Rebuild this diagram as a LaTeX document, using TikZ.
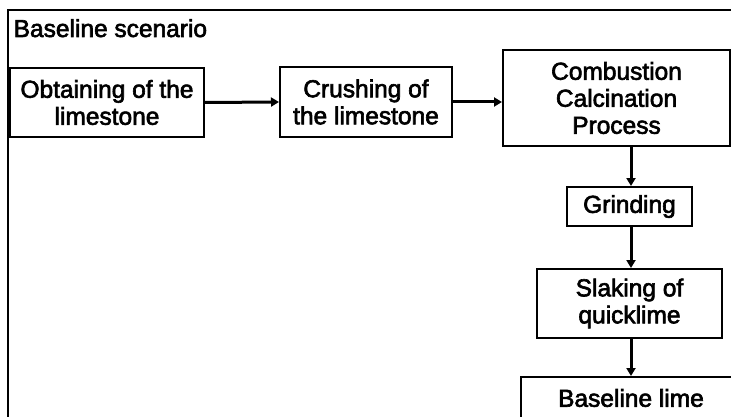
\documentclass[tikz,border=0pt]{standalone}
\usepackage{fontspec}
\setmainfont{Liberation Sans}
\newfontfamily\labelfont{Liberation Sans}[FakeBold=2.5]
\usetikzlibrary{arrows.meta}
\begin{document}
\begin{tikzpicture}[x=1pt,y=-1pt,
  every node/.style={font=\labelfont\fontsize{24.5}{27}\selectfont, inner sep=0pt, align=center},
  stepbox/.style={draw, line width=2pt, anchor=center},
  flow/.style={line width=3pt, -{Triangle[length=8pt,width=9pt]}}]
\useasboundingbox (0,0) rectangle (731,417);
\fill[white] (0,0) rectangle (731,417);
% scenario frame
\draw[line width=2pt] (8,420) -- (8,10.5) -- (740,10.5);
\node[anchor=base west] (title) at (13.5,37) {Baseline scenario};
% process steps
\node[stepbox, minimum width=194pt, minimum height=69pt] (obtain) at (107,102.5) {Obtaining of the\\limestone};
\node[stepbox, minimum width=172pt, minimum height=70pt] (crush) at (366,102) {Crushing of\\the limestone};
\node[stepbox, minimum width=227pt, minimum height=96pt] (comb) at (616.5,98) {Combustion\\Calcination\\Process};
\node[stepbox, minimum width=125pt, minimum height=39pt] (grind) at (629.5,206.5) {Grinding};
\node[stepbox, minimum width=185pt, minimum height=69pt] (slake) at (629.5,303.5) {Slaking of\\quicklime};
\node[stepbox, minimum width=220pt, minimum height=42pt] (lime) at (631,398) {Baseline lime};
% connectors
\draw[flow] (obtain.east) -- (crush.west);
\draw[flow] (crush.east) -- (comb.west |- crush.east);
\coordinate (vx) at (631,0);
\draw[flow] (vx |- comb.south) -- (vx |- grind.north);
\draw[flow] (vx |- grind.south) -- (vx |- slake.north);
\draw[flow] (vx |- slake.south) -- (vx |- lime.north);
\end{tikzpicture}
\end{document}
